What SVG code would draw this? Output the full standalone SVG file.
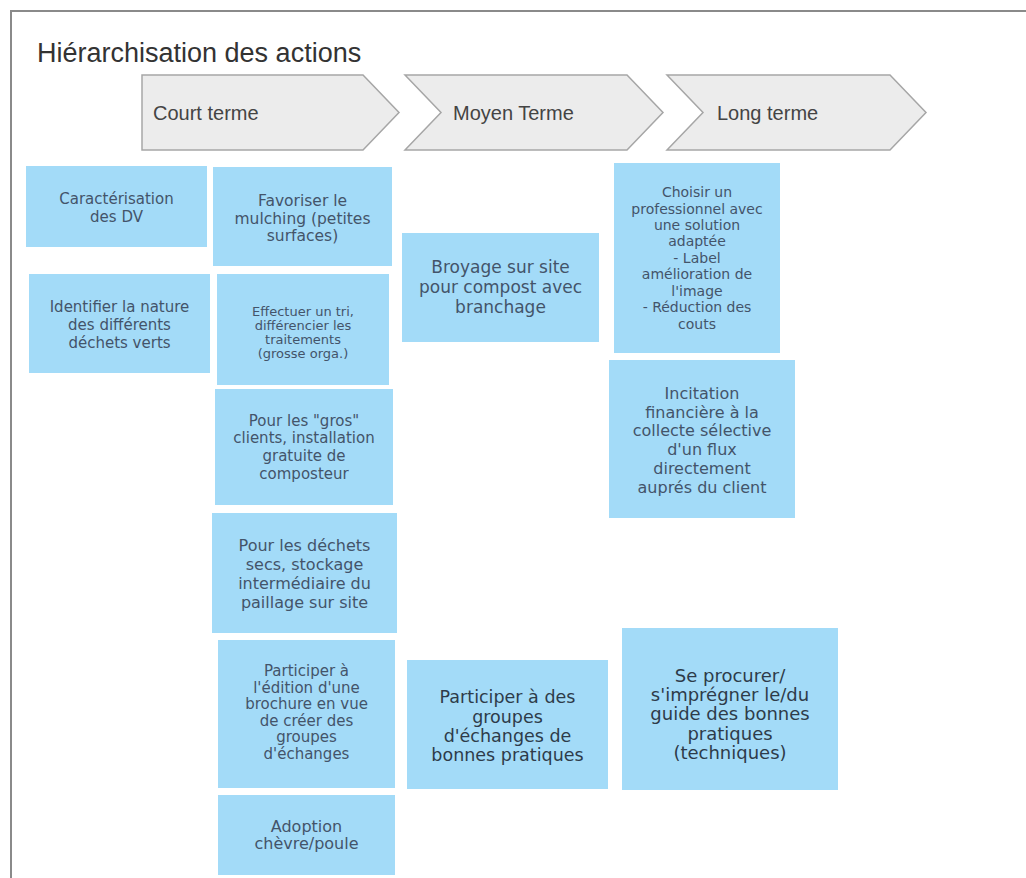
<svg xmlns="http://www.w3.org/2000/svg" width="1026" height="878" viewBox="0 0 1026 878">
<style>
.frame{fill:none;stroke:#8a8a8a;stroke-width:2}
.title{font-family:"Liberation Sans",Arial,sans-serif;font-size:27px;fill:#333}
.chev{fill:#ececec;stroke:#a6a6a6;stroke-width:1.5}
.chevt{font-family:"Liberation Sans",Arial,sans-serif;font-size:20px;fill:#444}
.box{fill:#a3dbf8}
.bt{font-family:"DejaVu Sans","Liberation Sans",sans-serif;fill:#43546a;text-anchor:middle}
.bt2{font-family:"DejaVu Sans","Liberation Sans",sans-serif;fill:#2e3b4a;text-anchor:middle}
</style>
<rect width="1026" height="878" fill="#ffffff"/>
<path class="frame" d="M11,878 V11 H1026"/>
<text class="title" x="37" y="62">Hiérarchisation des actions</text>
<g id="phase-court">
<polygon class="chev" points="142,75 363,75 399,112.5 363,150 142,150"/>
<text class="chevt" x="153" y="120">Court terme</text>
</g>
<g id="phase-moyen">
<polygon class="chev" points="405,75 627,75 663,112.5 627,150 405,150 441,112.5"/>
<text class="chevt" x="453" y="120">Moyen Terme</text>
</g>
<g id="phase-long">
<polygon class="chev" points="667,75 890,75 926,112.5 890,150 667,150 703,112.5"/>
<text class="chevt" x="717" y="120">Long terme</text>
</g>
<g id="connectors"></g>
<g id="n1">
<rect class="box" x="26" y="166" width="181" height="81"/>
<text class="bt" font-size="15"><tspan x="116.5" y="204">Caractérisation</tspan><tspan x="116.5" y="222">des DV</tspan></text>
</g>
<g id="n2">
<rect class="box" x="29" y="274" width="181" height="99"/>
<text class="bt" font-size="15"><tspan x="119.5" y="312">Identifier la nature</tspan><tspan x="119.5" y="330">des différents</tspan><tspan x="119.5" y="348">déchets verts</tspan></text>
</g>
<g id="n3">
<rect class="box" x="213" y="167" width="179" height="99"/>
<text class="bt" font-size="15.5"><tspan x="302.5" y="206">Favoriser le</tspan><tspan x="302.5" y="223.5">mulching (petites</tspan><tspan x="302.5" y="241">surfaces)</tspan></text>
</g>
<g id="n4">
<rect class="box" x="217" y="274" width="172" height="111"/>
<text class="bt" font-size="13"><tspan x="303" y="316">Effectuer un tri,</tspan><tspan x="303" y="330">différencier les</tspan><tspan x="303" y="344">traitements</tspan><tspan x="303" y="358">(grosse orga.)</tspan></text>
</g>
<g id="n5">
<rect class="box" x="215" y="389" width="178" height="116"/>
<text class="bt" font-size="15"><tspan x="304" y="425.5">Pour les "gros"</tspan><tspan x="304" y="443.3">clients, installation</tspan><tspan x="304" y="461">gratuite de</tspan><tspan x="304" y="479">composteur</tspan></text>
</g>
<g id="n6">
<rect class="box" x="212" y="513" width="185" height="120"/>
<text class="bt" font-size="16"><tspan x="304.5" y="551">Pour les déchets</tspan><tspan x="304.5" y="570">secs, stockage</tspan><tspan x="304.5" y="589">intermédiaire du</tspan><tspan x="304.5" y="608">paillage sur site</tspan></text>
</g>
<g id="n7">
<rect class="box" x="218" y="640" width="177" height="148"/>
<text class="bt" font-size="15"><tspan x="306.5" y="676">Participer à</tspan><tspan x="306.5" y="692.5">l'édition d'une</tspan><tspan x="306.5" y="709">brochure en vue</tspan><tspan x="306.5" y="725.5">de créer des</tspan><tspan x="306.5" y="742">groupes</tspan><tspan x="306.5" y="758.5">d'échanges</tspan></text>
</g>
<g id="n8">
<rect class="box" x="218" y="795" width="177" height="80"/>
<text class="bt" font-size="16"><tspan x="306.5" y="832">Adoption</tspan><tspan x="306.5" y="849">chèvre/poule</tspan></text>
</g>
<g id="n9">
<rect class="box" x="402" y="233" width="197" height="109"/>
<text class="bt" font-size="17"><tspan x="500.5" y="273">Broyage sur site</tspan><tspan x="500.5" y="293">pour compost avec</tspan><tspan x="500.5" y="313">branchage</tspan></text>
</g>
<g id="n10">
<rect class="box" x="614" y="163" width="166" height="190"/>
<text class="bt" font-size="14"><tspan x="697" y="197">Choisir un</tspan><tspan x="697" y="213.5">professionnel avec</tspan><tspan x="697" y="230">une solution</tspan><tspan x="697" y="246.4">adaptée</tspan><tspan x="697" y="262.8">- Label</tspan><tspan x="697" y="279.3">amélioration de</tspan><tspan x="697" y="295.7">l'image</tspan><tspan x="697" y="312.2">- Réduction des</tspan><tspan x="697" y="328.6">couts</tspan></text>
</g>
<g id="n11">
<rect class="box" x="609" y="360" width="186" height="158"/>
<text class="bt" font-size="16"><tspan x="702" y="399">Incitation</tspan><tspan x="702" y="417.7">financière à la</tspan><tspan x="702" y="436.4">collecte sélective</tspan><tspan x="702" y="455.1">d'un flux</tspan><tspan x="702" y="473.8">directement</tspan><tspan x="702" y="492.5">auprés du client</tspan></text>
</g>
<g id="n12">
<rect class="box" x="407" y="660" width="201" height="129"/>
<text class="bt2" font-size="17.5"><tspan x="507.5" y="703">Participer à des</tspan><tspan x="507.5" y="722.5">groupes</tspan><tspan x="507.5" y="742">d'échanges de</tspan><tspan x="507.5" y="761">bonnes pratiques</tspan></text>
</g>
<g id="n13">
<rect class="box" x="622" y="628" width="216" height="162"/>
<text class="bt2" font-size="18"><tspan x="730" y="682">Se procurer/</tspan><tspan x="730" y="701.2">s'imprégner le/du</tspan><tspan x="730" y="720.4">guide des bonnes</tspan><tspan x="730" y="739.6">pratiques</tspan><tspan x="730" y="758.8">(techniques)</tspan></text>
</g>
</svg>
